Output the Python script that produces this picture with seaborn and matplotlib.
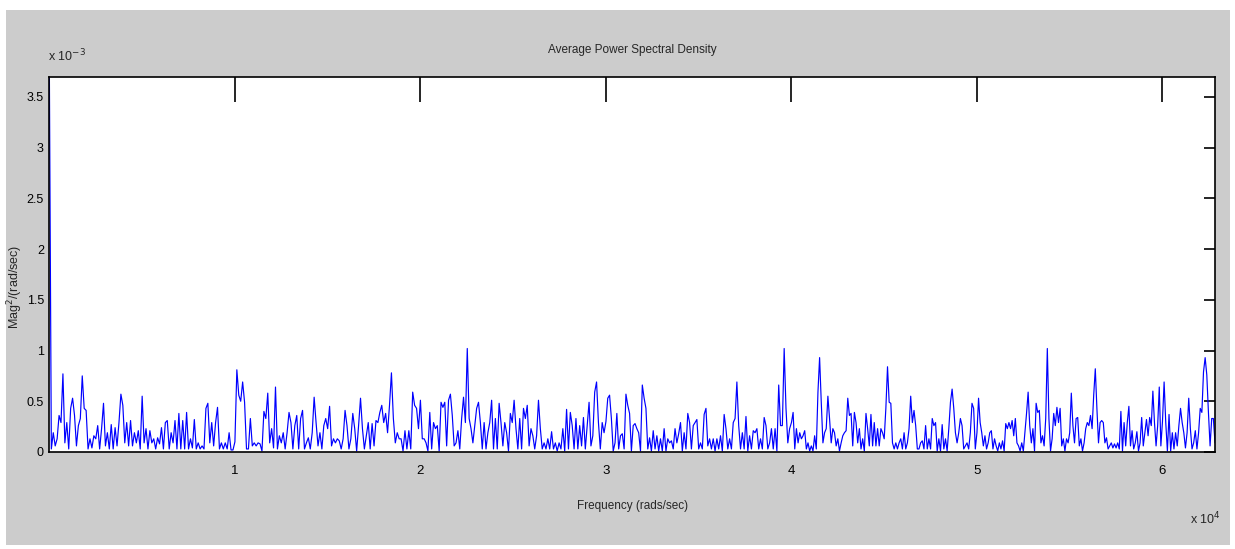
import numpy as np
import matplotlib
matplotlib.use("Agg")
import matplotlib.pyplot as plt
import seaborn as sns
from matplotlib.patches import Rectangle
from matplotlib.ticker import FuncFormatter

# average PSD, in units of 1e-3; one list per 1e4 rad/s stretch
psd_0_1 = [3.70, 0.03, 0.19, 0.06, 0.13, 0.36, 0.29, 0.77, 0.09, 0.29,
           0.03, 0.43, 0.53, 0.36, 0.06, 0.26, 0.33, 0.75, 0.43, 0.41,
           0.03, 0.13, 0.04, 0.16, 0.13, 0.26, 0.03, 0.23, 0.48, 0.06,
           0.19, 0.03, 0.27, 0.03, 0.24, 0.06, 0.29, 0.57, 0.46, 0.09,
           0.29, 0.06, 0.31, 0.06, 0.19, 0.09, 0.21, 0.03, 0.55, 0.09,
           0.23, 0.03, 0.21, 0.09, 0.13, 0.03, 0.14, 0.08, 0.24, 0.03,
           0.29, 0.31, 0.03, 0.19, 0.09, 0.31, 0.03, 0.38, 0.03, 0.31,
           0.03, 0.39, 0.03, 0.13, 0.04, 0.32, 0.03, 0.09, 0.03, 0.06,
           0.03, 0.43, 0.48, 0.09, 0.29, 0.06, 0.29, 0.44, 0.03, 0.09,
           0.03, 0.09, 0.03, 0.19, 0.02, 0.02]
psd_1_2 = [0.10, 0.81, 0.56, 0.50, 0.69, 0.49, 0.03, 0.03, 0.33, 0.06,
           0.09, 0.06, 0.09, 0.08, 0.01, 0.40, 0.33, 0.58, 0.09, 0.23,
           0.04, 0.64, 0.03, 0.16, 0.09, 0.19, 0.03, 0.19, 0.39, 0.29,
           0.03, 0.26, 0.36, 0.03, 0.33, 0.41, 0.03, 0.09, 0.14, 0.03,
           0.19, 0.54, 0.29, 0.06, 0.19, 0.03, 0.26, 0.33, 0.23, 0.45,
           0.06, 0.13, 0.09, 0.13, 0.11, 0.03, 0.13, 0.41, 0.26, 0.03,
           0.13, 0.38, 0.23, 0.01, 0.26, 0.53, 0.23, 0.03, 0.16, 0.29,
           0.03, 0.28, 0.06, 0.31, 0.29, 0.39, 0.46, 0.29, 0.38, 0.19,
           0.46, 0.78, 0.33, 0.09, 0.19, 0.13, 0.13, 0.01, 0.21, 0.03,
           0.21, 0.03, 0.59, 0.46, 0.43, 0.23]
psd_2_3 = [0.51, 0.13, 0.13, 0.09, 0.01, 0.39, 0.03, 0.29, 0.23, 0.26,
           0.01, 0.49, 0.44, 0.49, 0.06, 0.51, 0.57, 0.36, 0.06, 0.09,
           0.21, 0.03, 0.33, 0.54, 0.29, 1.02, 0.33, 0.23, 0.09, 0.26,
           0.43, 0.49, 0.29, 0.03, 0.29, 0.03, 0.19, 0.29, 0.51, 0.03,
           0.33, 0.03, 0.48, 0.29, 0.06, 0.29, 0.19, 0.01, 0.38, 0.29,
           0.51, 0.23, 0.03, 0.33, 0.03, 0.43, 0.33, 0.46, 0.06, 0.23,
           0.16, 0.03, 0.16, 0.51, 0.23, 0.03, 0.09, 0.03, 0.13, 0.03,
           0.20, 0.03, 0.09, 0.01, 0.09, 0.03, 0.23, 0.01, 0.42, 0.03,
           0.39, 0.26, 0.03, 0.33, 0.03, 0.26, 0.06, 0.34, 0.03, 0.26,
           0.49, 0.06, 0.16, 0.59, 0.69, 0.29, 0.03, 0.29, 0.19]
psd_3_4 = [0.30, 0.53, 0.56, 0.33, 0.01, 0.09, 0.38, 0.03, 0.16, 0.18,
           0.03, 0.57, 0.46, 0.38, 0.01, 0.26, 0.28, 0.23, 0.19, 0.01,
           0.66, 0.53, 0.43, 0.03, 0.14, 0.01, 0.21, 0.03, 0.16, 0.01,
           0.13, 0.01, 0.23, 0.01, 0.13, 0.09, 0.11, 0.03, 0.23, 0.09,
           0.18, 0.29, 0.01, 0.19, 0.03, 0.38, 0.29, 0.03, 0.26, 0.29,
           0.32, 0.03, 0.09, 0.03, 0.37, 0.43, 0.06, 0.13, 0.03, 0.13,
           0.01, 0.13, 0.03, 0.16, 0.01, 0.37, 0.23, 0.03, 0.13, 0.03,
           0.29, 0.33, 0.69, 0.26, 0.03, 0.19, 0.03, 0.35, 0.01, 0.16,
           0.03, 0.21, 0.19, 0.23, 0.03, 0.13, 0.03, 0.34, 0.26, 0.03,
           0.09, 0.23, 0.03, 0.23, 0.01, 0.66, 0.26, 0.26, 1.02, 0.43,
           0.09, 0.23]
psd_4_5 = [0.29, 0.39, 0.03, 0.23, 0.09, 0.19, 0.13, 0.16, 0.21, 0.03,
           0.09, 0.01, 0.06, 0.01, 0.16, 0.03, 0.59, 0.93, 0.49, 0.09,
           0.19, 0.23, 0.55, 0.33, 0.09, 0.23, 0.19, 0.06, 0.13, 0.01,
           0.09, 0.16, 0.19, 0.21, 0.53, 0.36, 0.38, 0.06, 0.39, 0.29,
           0.09, 0.23, 0.03, 0.13, 0.01, 0.38, 0.23, 0.06, 0.37, 0.06,
           0.29, 0.06, 0.23, 0.06, 0.23, 0.19, 0.13, 0.43, 0.84, 0.49,
           0.48, 0.09, 0.03, 0.09, 0.03, 0.09, 0.13, 0.03, 0.19, 0.03,
           0.09, 0.23, 0.55, 0.29, 0.41, 0.26, 0.03, 0.03, 0.09, 0.11,
           0.03, 0.26, 0.03, 0.13, 0.03, 0.33, 0.26, 0.29, 0.01, 0.13,
           0.01, 0.27, 0.03, 0.13, 0.01, 0.23, 0.49, 0.62, 0.43, 0.19,
           0.09, 0.19, 0.33, 0.26, 0.03, 0.06, 0.09, 0.03, 0.19, 0.48,
           0.43, 0.03]
psd_5_6 = [0.19, 0.53, 0.29, 0.19, 0.06, 0.16, 0.03, 0.09, 0.19, 0.21,
           0.03, 0.13, 0.06, 0.01, 0.09, 0.03, 0.11, 0.01, 0.28, 0.23,
           0.29, 0.23, 0.31, 0.16, 0.33, 0.09, 0.06, 0.01, 0.09, 0.01,
           0.19, 0.38, 0.59, 0.26, 0.09, 0.23, 0.01, 0.48, 0.39, 0.41,
           0.09, 0.16, 0.06, 0.33, 1.02, 0.33, 0.01, 0.13, 0.38, 0.26,
           0.44, 0.29, 0.43, 0.06, 0.13, 0.01, 0.13, 0.09, 0.19, 0.58,
           0.26, 0.09, 0.33, 0.34, 0.06, 0.13, 0.01, 0.09, 0.23, 0.29,
           0.26, 0.36, 0.23, 0.56, 0.82, 0.43, 0.09, 0.29, 0.31, 0.29,
           0.09, 0.14, 0.03, 0.06, 0.09, 0.04, 0.08, 0.04, 0.09, 0.03,
           0.40, 0.01, 0.29, 0.06, 0.29, 0.45, 0.06, 0.21, 0.03, 0.09,
           0.20, 0.01, 0.09, 0.34, 0.06, 0.19, 0.32, 0.16, 0.34, 0.26,
           0.60, 0.29, 0.06, 0.26, 0.64, 0.06]
psd_6_end = [0.30, 0.69, 0.29, 0.01, 0.37, 0.01, 0.19, 0.03, 0.19, 0.06,
             0.26, 0.43, 0.29, 0.19, 0.04, 0.19, 0.53, 0.23, 0.03, 0.09,
             0.21, 0.03, 0.19, 0.43, 0.39, 0.79, 0.93, 0.76, 0.39, 0.06,
             0.33, 0.33, 0.09]

edges = [0, 1e4, 2e4, 3e4, 4e4, 5e4, 6e4, 2 * np.pi * 1e4]
segments = [psd_0_1, psd_1_2, psd_2_3, psd_3_4, psd_4_5, psd_5_6, psd_6_end]
xtick_vals = [1e4, 2e4, 3e4, 4e4, 5e4, 6e4]
ytick_vals = [0, 0.5e-3, 1e-3, 1.5e-3, 2e-3, 2.5e-3, 3e-3, 3.5e-3]

freq_parts = []
for i, seg in enumerate(segments):
    last = i == len(segments) - 1
    freq_parts.append(np.linspace(edges[i], edges[i + 1], len(seg), endpoint=last))
freq = np.concatenate(freq_parts)
psd = np.concatenate(segments) * 1e-3

sns.set_style("white")
plt.rcParams['font.family'] = ['Liberation Sans Narrow', 'Liberation Sans', 'DejaVu Sans']
plt.rcParams['mathtext.fontset'] = 'custom'

W, H = 1235, 549
fig = plt.figure(figsize=(W / 100, H / 100), dpi=100, facecolor='white')
fig.patches.append(Rectangle((6 / W, 4 / H), 1224 / W, 535 / H, transform=fig.transFigure,
                             facecolor='#cccccc', edgecolor='none', zorder=-10))

ax = fig.add_axes([49.4 / W, 1 - 452 / H, (1215 - 49.4) / W, (452 - 76.5) / H])
ax.set_facecolor('white')
sns.lineplot(x=freq, y=psd, color='#0000ff', linewidth=0.85, ax=ax,
             sort=False, estimator=None)

ax.set_xlim(0, edges[-1])
ax.set_ylim(0, psd.max())
ax.set_xticks(xtick_vals)
ax.set_yticks(ytick_vals)
ax.xaxis.set_major_formatter(FuncFormatter(lambda v, p: f'{v / 1e4:g}'))
ax.yaxis.set_major_formatter(FuncFormatter(lambda v, p: f'{v * 1e3:g}'))
ax.tick_params(direction='in', top=True, right=True, colors='black',
               labelsize=9.5, width=1.2)
ax.tick_params(axis='x', length=18, pad=9)
ax.tick_params(axis='y', length=8, pad=4, labelsize=9)
for s in ax.spines.values():
    s.set_visible(True)
    s.set_color('black')
    s.set_linewidth(1.2)

ax.set_title('Average Power Spectral Density', fontsize=8.5, pad=17)
ax.set_xlabel('Frequency (rads/sec)', fontsize=8.5, labelpad=17)
fig.text(15 / W, 1 - 287 / H, 'Mag$^2$/(rad/sec)', rotation=90, fontsize=9,
         ha='center', va='center')
fig.text(48 / W, 1 - 61 / H, r'x 10$^{-3}$', fontsize=9, ha='left', va='baseline')
fig.text(1190 / W, 1 - 524 / H, r'x 10$^{4}$', fontsize=9, ha='left', va='baseline')

fig.savefig('out.png', dpi=100, facecolor=fig.get_facecolor())
